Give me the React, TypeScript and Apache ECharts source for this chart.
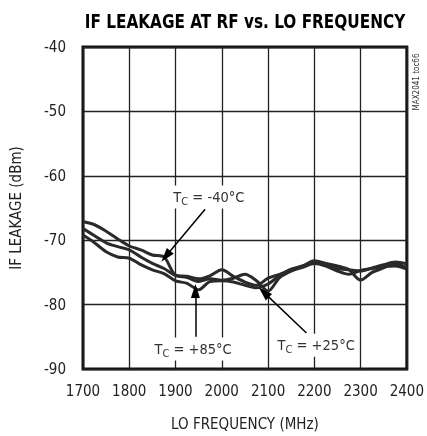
import React, { useEffect, useRef } from 'react';
import * as echarts from 'echarts';

const freqs = [1700, 1725, 1750, 1775, 1800, 1825, 1850, 1875, 1900, 1925, 1950, 1975, 2000, 2025, 2050, 2075, 2100, 2125, 2150, 2175, 2200, 2225, 2250, 2275, 2300, 2325, 2350, 2375, 2400];
const tMinus40 = [-67.1, -67.6, -68.6, -69.8, -70.9, -71.5, -72.3, -72.6, -75.4, -75.6, -76.0, -75.5, -74.6, -75.6, -76.5, -77.0, -75.9, -75.3, -74.6, -74.0, -73.4, -73.8, -74.4, -74.6, -74.8, -74.3, -73.8, -73.4, -73.7];
const tPlus25 = [-68.2, -69.3, -70.4, -71.0, -71.5, -72.6, -73.6, -74.4, -75.5, -75.8, -76.4, -76.0, -76.2, -75.9, -75.3, -76.3, -77.9, -75.8, -74.8, -74.2, -73.6, -74.0, -74.8, -75.3, -74.7, -74.4, -74.1, -74.0, -74.5];
const tPlus85 = [-69.2, -70.4, -71.8, -72.6, -72.8, -73.8, -74.6, -75.2, -76.3, -76.7, -77.7, -76.4, -76.3, -76.5, -77.0, -77.4, -76.8, -75.5, -74.5, -74.0, -73.2, -73.6, -74.0, -74.6, -76.2, -75.0, -74.3, -73.6, -74.3];

const xMin = 1700, xMax = 2400, xStep = 100;
const yMin = -90, yMax = -40, yStep = 10;

const labelTexts = ['-40', '+85', '+25'];
const labelPos = [[1972, -63.3], [1938, -86.9], [2204, -86.3]];
const arrowFrom = [[1964, -65.2], [1943, -85.0], [2183, -84.4]];
const arrowTo = [[1879, -72.5], [1943, -77.9], [2091, -78.1]];

const FONT = '"Liberation Sans Narrow", "DejaVu Sans Condensed", "Liberation Sans", Arial, sans-serif';

export default function App() {
  const ref = useRef<HTMLDivElement>(null);
  useEffect(() => {
    const chart = echarts.init(ref.current!, null, { renderer: 'svg' });
    const mk = (vals: number[]) => freqs.map((f, i) => [f, vals[i]]);
    const lineStyle = { color: '#2a2a2a', width: 3 };
    chart.setOption({
      animation: false,
      grid: { left: 81, top: 47, width: 329, height: 328, show: true, borderColor: '#111', borderWidth: 3, backgroundColor: '#fff' },
      xAxis: {
        type: 'value', min: xMin, max: xMax, interval: xStep,
        name: 'LO FREQUENCY (MHz)', nameLocation: 'middle', nameGap: 47,
        nameTextStyle: { fontFamily: FONT, fontSize: 15, color: '#222' },
        axisLine: { show: false }, axisTick: { show: false },
        axisLabel: { fontFamily: FONT, fontSize: 15, color: '#222', margin: 14, formatter: (v: number) => String(v) },
        splitLine: { show: true, lineStyle: { color: '#222', width: 1.3 } },
      },
      yAxis: {
        type: 'value', min: yMin, max: yMax, interval: yStep,
        name: 'IF LEAKAGE (dBm)', nameLocation: 'middle', nameGap: 60, nameRotate: 90,
        nameTextStyle: { fontFamily: FONT, fontSize: 15, color: '#222' },
        axisLine: { show: false }, axisTick: { show: false },
        axisLabel: { fontFamily: FONT, fontSize: 15, color: '#222', margin: 17 },
        splitLine: { show: true, lineStyle: { color: '#222', width: 1.3 } },
      },
      series: [
        { type: 'line', data: mk(tPlus85), symbol: 'none', smooth: 0.3, lineStyle },
        { type: 'line', data: mk(tPlus25), symbol: 'none', smooth: 0.3, lineStyle },
        {
          type: 'line', data: mk(tMinus40), symbol: 'none', smooth: 0.3, lineStyle,
          markLine: {
            silent: true,
            symbol: ['none', 'triangle'],
            symbolSize: [9, 14],
            lineStyle: { color: '#000', width: 1.5, type: 'solid' },
            label: { show: false },
            data: arrowFrom.map((a, i) => [
              { coord: a, symbol: 'none' },
              { coord: arrowTo[i], symbol: 'triangle', symbolSize: [9, 14] },
            ]),
          },
          markPoint: {
            silent: true,
            symbol: 'rect', symbolSize: 1,
            itemStyle: { color: 'rgba(0,0,0,0)' },
            data: labelPos.map((p, i) => ({
              coord: p,
              label: {
                show: true, position: 'inside',
                formatter: `{t|T}{s|C}{t| = ${labelTexts[i]}°C}`,
                backgroundColor: '#fff', padding: [2, 2],
                rich: {
                  t: { fontFamily: FONT, fontSize: 14.5, color: '#333', lineHeight: 19, verticalAlign: 'middle' },
                  s: { fontFamily: FONT, fontSize: 11, color: '#333', lineHeight: 19, verticalAlign: 'bottom', padding: [6, 0, 0, 0] },
                },
              },
            })),
          },
        },
      ],
      graphic: [
        {
          type: 'text', x: 245, y: 21, scaleX: 0.85,
          style: { text: 'IF LEAKAGE AT RF vs. LO FREQUENCY', fontFamily: FONT, fontWeight: 'bold', fontSize: 20, fill: '#000', textAlign: 'center', textVerticalAlign: 'middle' },
        },
        {
          type: 'text', x: 416, y: 82, rotation: Math.PI / 2,
          style: { text: 'MAX2041 toc66', fontFamily: FONT, fontSize: 8, fill: '#333', textAlign: 'center', textVerticalAlign: 'middle' },
        },
      ],
    });
    return () => chart.dispose();
  }, []);
  return <div ref={ref} style={{ position: 'fixed', left: 0, top: 0, width: 427, height: 436 }} />;
}
